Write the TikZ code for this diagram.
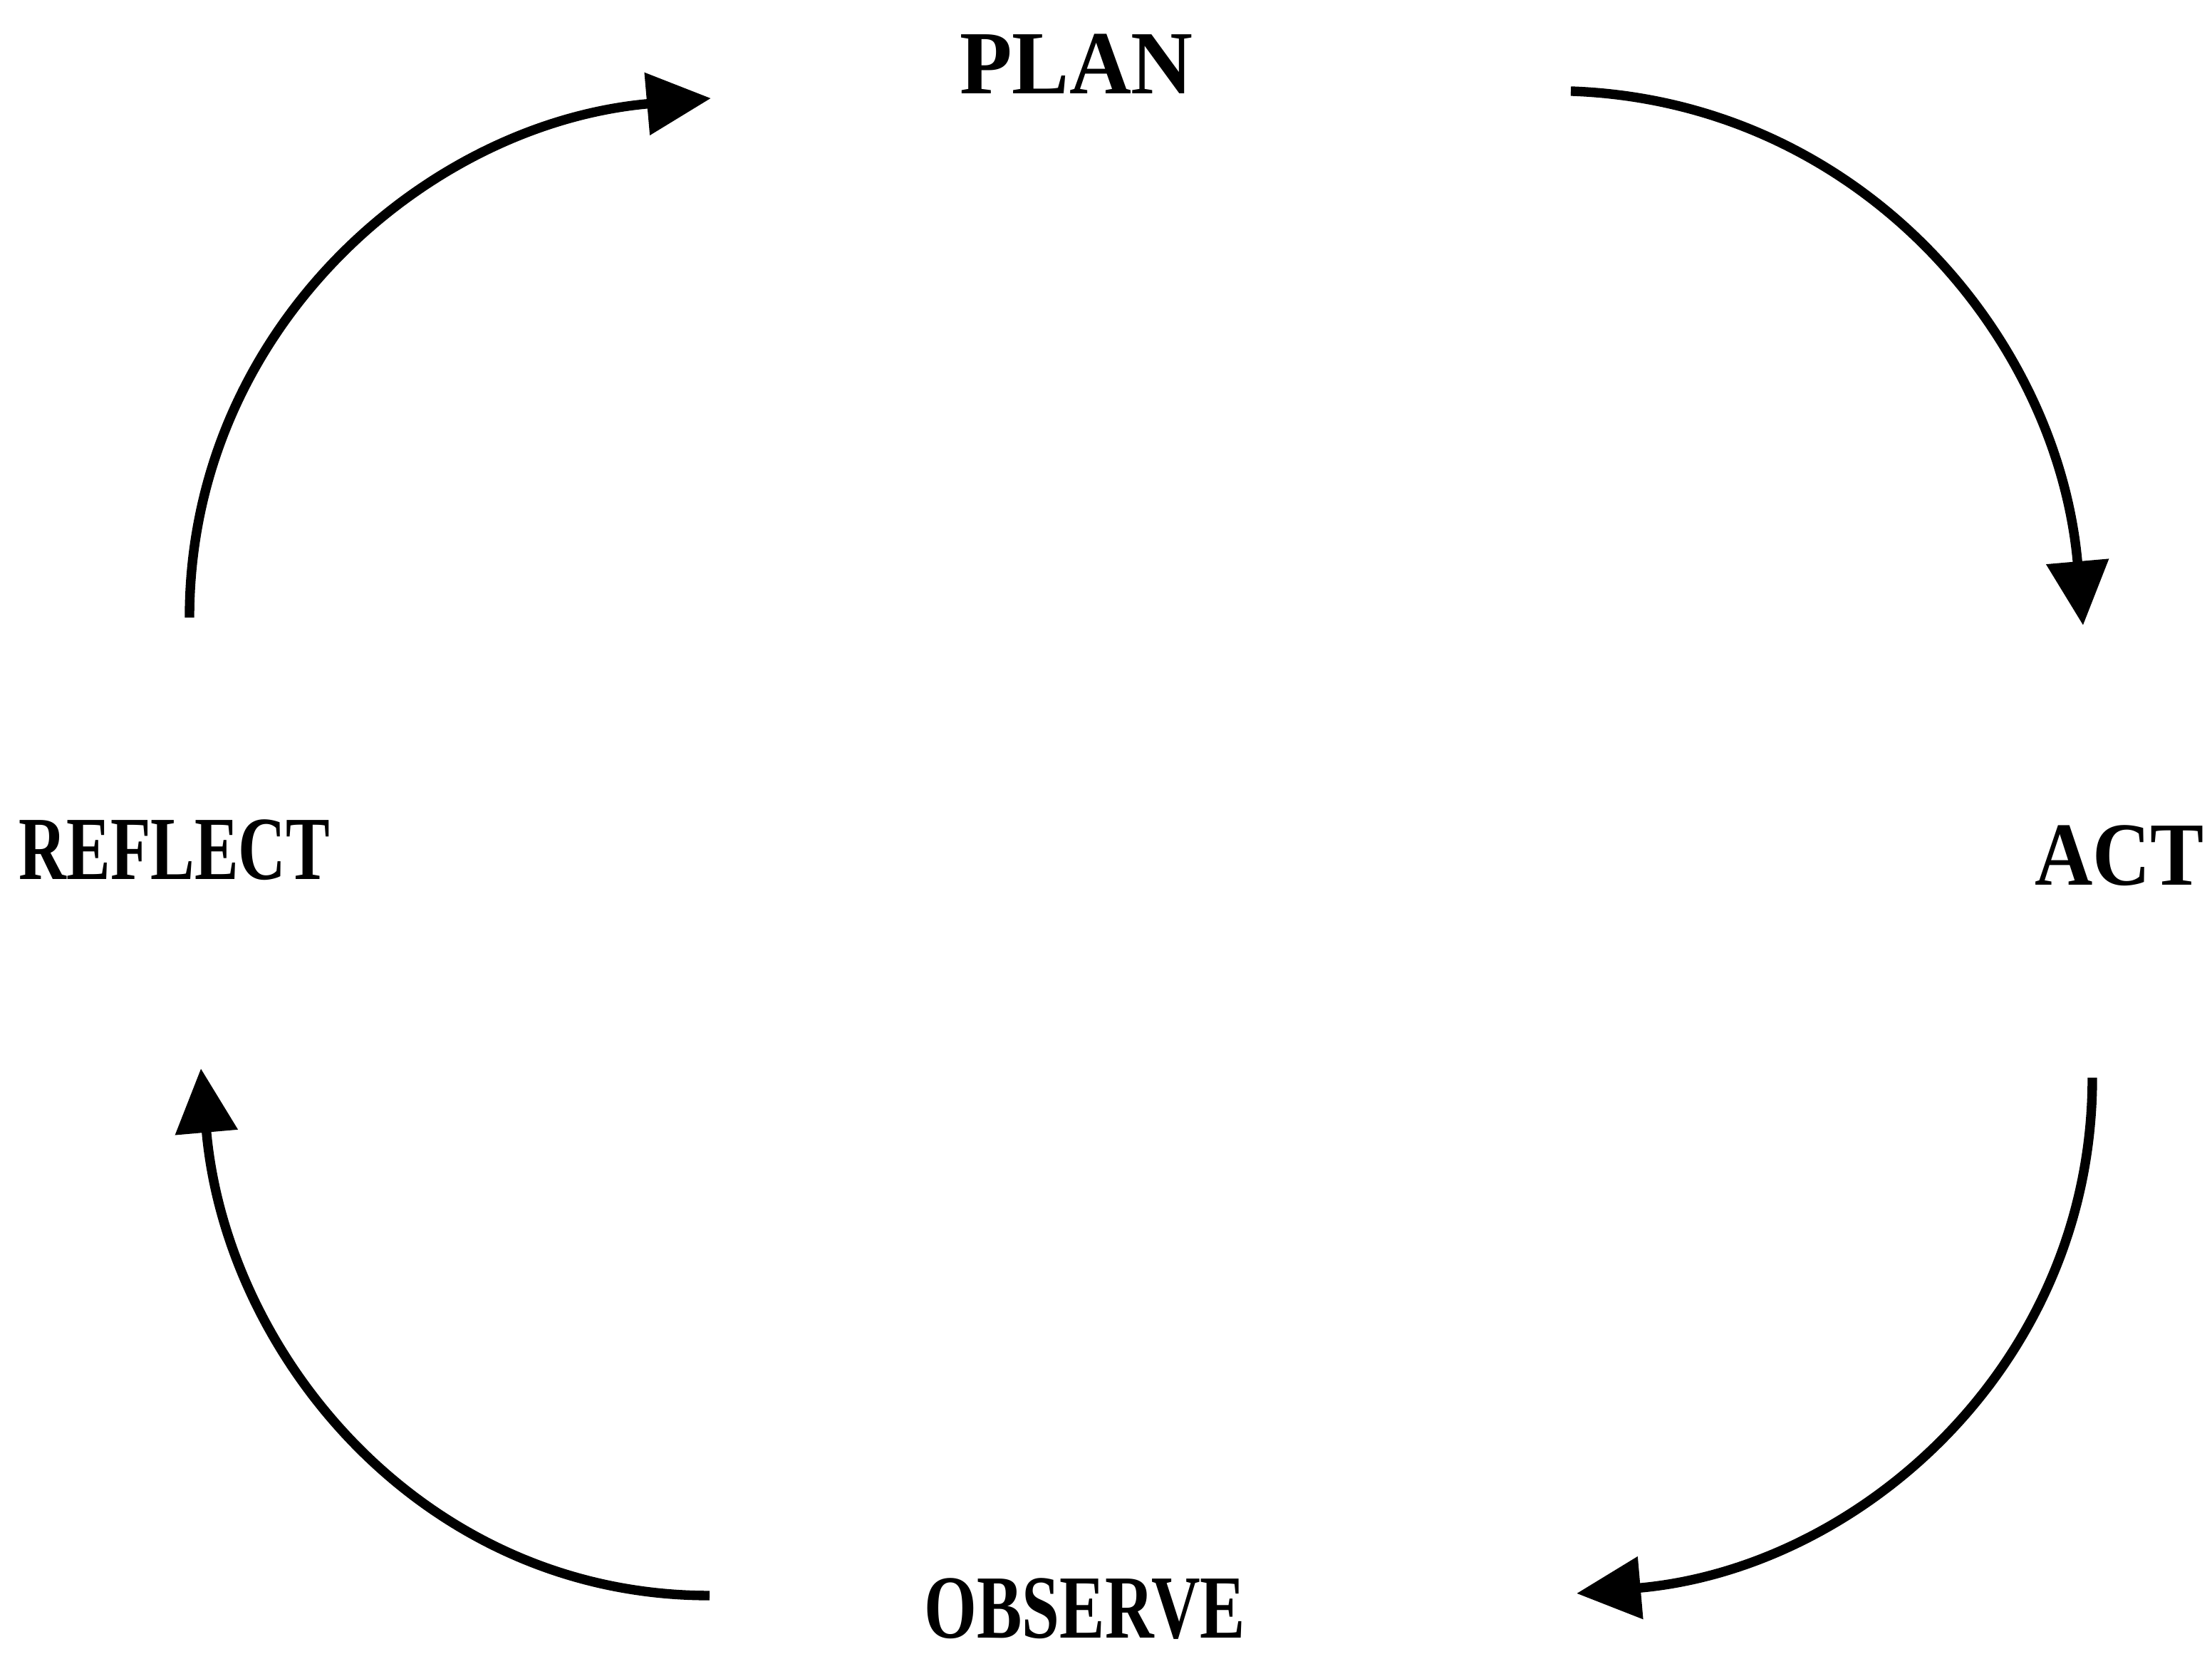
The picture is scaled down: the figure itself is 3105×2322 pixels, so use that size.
\documentclass[tikz,border=0pt]{standalone}
\usepackage{fontspec}
\usepackage{graphicx}
\setmainfont{Liberation Serif}
\usetikzlibrary{arrows.meta}

\begin{document}
\begin{tikzpicture}[x=0.01cm, y=0.01cm,
                    lbl/.style={anchor=base, inner sep=0pt, font=\fontsize{36}{40}\selectfont\bfseries},
                    cyc/.style={line width=3.8pt, -{Triangle[length=0.9cm, width=0.85cm]}}]
  \useasboundingbox (0,0) rectangle (3105,2322);
  % stages
  \node[lbl] (plan)    at (1511,2190) {\scalebox{0.95}[1]{PLAN}};
  \node[lbl] (act)     at (2975,1079) {\scalebox{0.89}[1]{ACT}};
  \node[lbl] (observe) at (1523,22)   {\scalebox{0.75}[1]{OBSERVE}};
  \node[lbl] (reflect) at (245,1087)  {\scalebox{0.73}[1]{REFLECT}};
  % arrow ends
  \coordinate (rp) at (266,1455);  \coordinate (pr) at (998,2184);
  \coordinate (pa) at (2205,2194); \coordinate (ap) at (2924,1444);
  \coordinate (ao) at (2937,809);  \coordinate (oa) at (2213,85);
  \coordinate (or) at (996,82);    \coordinate (ro) at (282,822);
  % cycle
  \draw[cyc] (rp) to[out=90, in=185] (pr);
  \draw[cyc] (pa) to[out=-2, in=95] (ap);
  \draw[cyc] (ao) to[out=-90, in=5] (oa);
  \draw[cyc] (or) to[out=180, in=-85] (ro);
\end{tikzpicture}
\end{document}
